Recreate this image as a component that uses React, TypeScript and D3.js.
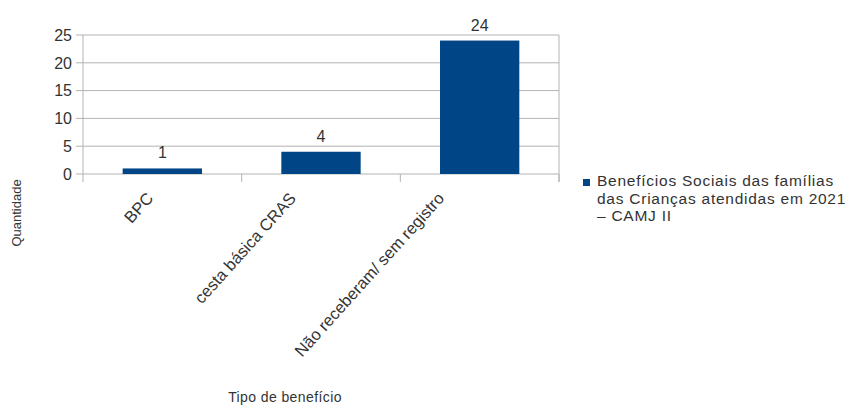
import React, { useLayoutEffect, useRef, useState } from "react";
import * as d3 from "d3";

const categories = ["BPC", "cesta básica CRAS", "Não receberam/ sem registro"];
const values = [1, 4, 24];
const yTicks = [0, 5, 10, 15, 20, 25];
const seriesName = ["Benefícios Sociais das famílias", "das Crianças atendidas em 2021", "– CAMJ II"];
const yTitle = "Quantidade";
const xTitle = "Tipo de benefício";

const W = 852;
const H = 405;
const left = 83;
const right = 559;
const top = 35;
const bottom = 174;
const FONT = "'Liberation Sans', Arial, sans-serif";
const BAR = "#004586";
const GRID = "#b3b3b3";
const TEXT = "#333";

export default function App() {
  const x = d3.scaleBand<string>().domain(categories).range([left, right]).paddingInner(0.5).paddingOuter(0.25);
  const xb = d3.scaleBand<string>().domain(categories).range([left, right]);
  const y = d3.scaleLinear().domain([0, 25]).range([bottom, top]);

  const labelRefs = useRef<(SVGTextElement | null)[]>([]);
  const [lens, setLens] = useState<number[]>(categories.map(() => 0));
  useLayoutEffect(() => {
    const l = labelRefs.current.map((el) => (el ? el.getComputedTextLength() : 0));
    setLens(l);
  }, []);

  return (
    <svg width={W} height={H} style={{ position: "absolute", left: 0, top: 0, background: "#fff" }} fontFamily={FONT}>
      {yTicks.map((t) => (
        <g key={t}>
          <line x1={left - 7} x2={right} y1={y(t)} y2={y(t)} stroke={GRID} strokeWidth={1} />
          <text x={72} y={y(t)} dy="0.36em" textAnchor="end" fontSize={16} fill={TEXT}>{t}</text>
        </g>
      ))}
      <line x1={left} x2={left} y1={top} y2={bottom + 8} stroke={GRID} />
      <line x1={right} x2={right} y1={top} y2={bottom + 8} stroke={GRID} />
      {categories.map((c) => (
        <line key={c} x1={(xb(c) as number) + xb.bandwidth()} x2={(xb(c) as number) + xb.bandwidth()} y1={bottom} y2={bottom + 8} stroke={GRID} />
      ))}
      {categories.map((c, i) => {
        const bx = x(c) as number;
        const cx = bx + x.bandwidth() / 2;
        const off = -3 - 0.148 * lens[i];
        return (
          <g key={c}>
            <rect x={bx} y={y(values[i])} width={x.bandwidth()} height={bottom - y(values[i])} fill={BAR} />
            <text x={cx} y={y(values[i]) - 10} textAnchor="middle" fontSize={16} fill={TEXT}>{values[i]}</text>
            <text
              ref={(el) => { labelRefs.current[i] = el; }}
              transform={`translate(${cx + off},${bottom + 25}) rotate(-48)`}
              textAnchor="end"
              fontSize={16.5}
              fill={TEXT}
            >{c}</text>
          </g>
        );
      })}
      <text transform={`translate(21,213) rotate(-90)`} textAnchor="middle" fontSize={13} fill={TEXT}>{yTitle}</text>
      <text x={285} y={402} textAnchor="middle" fontSize={14} letterSpacing={0.4} fill={TEXT}>{xTitle}</text>
      <rect x={583} y={179} width={7} height={7} fill={BAR} />
      {seriesName.map((s, i) => (
        <text key={i} x={597} y={186 + i * 17.5} fontSize={15.5} letterSpacing={0.75} fill={TEXT}>{s}</text>
      ))}
    </svg>
  );
}
